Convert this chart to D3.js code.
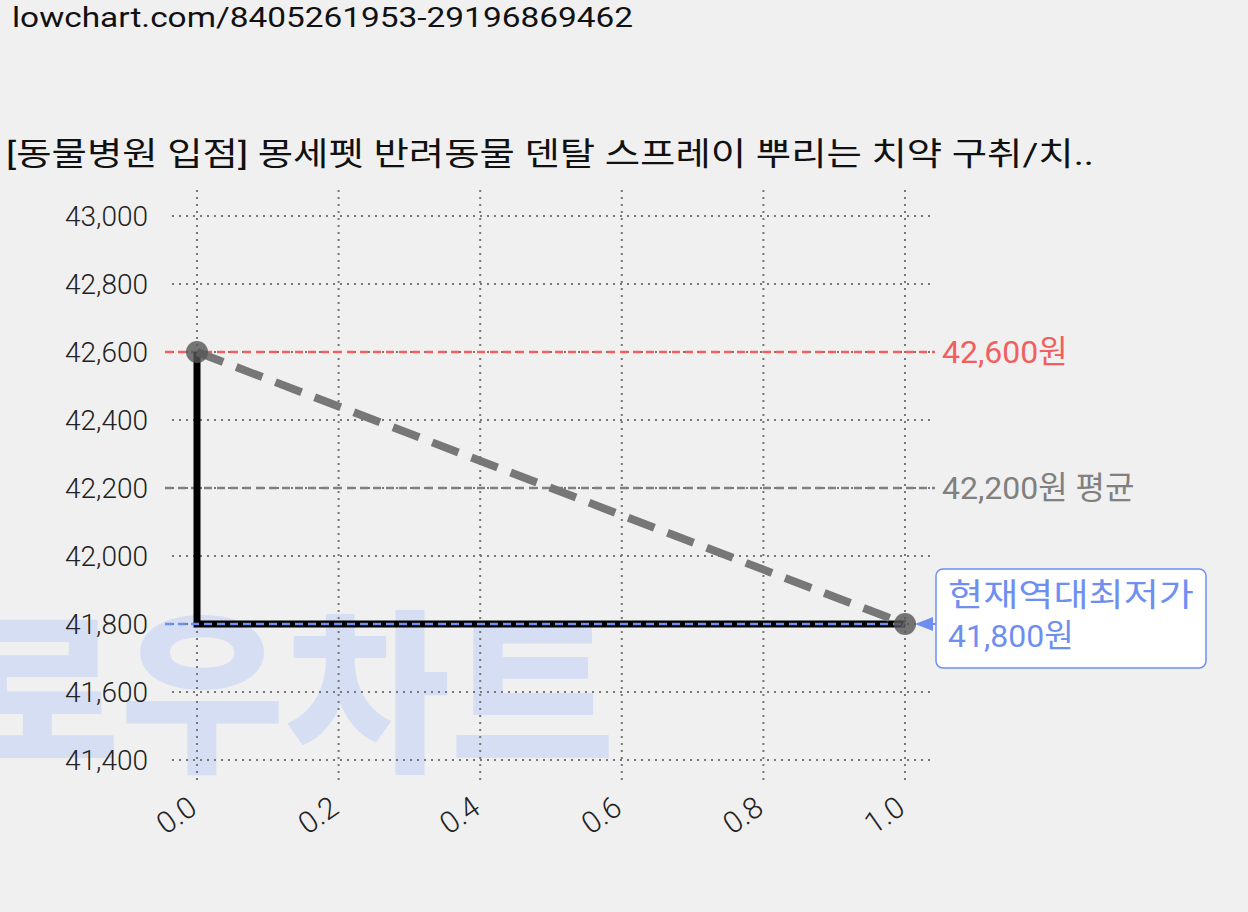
<!DOCTYPE html>
<html><head><meta charset="utf-8">
<script src="https://cdn.jsdelivr.net/npm/d3@7"></script>
<style>body{margin:0;background:#f0f0f0;font-family:Roboto,"Noto Sans CJK KR",sans-serif}</style>
</head><body>
<svg id="svg" width="1248" height="912"></svg>
<script>
const xs = [0, 1];
const prices = [42600, 41800];
const yTicks = [41400, 41600, 41800, 42000, 42200, 42400, 42600, 42800, 43000];
const xTicks = [0, 0.2, 0.4, 0.6, 0.8, 1.0];
const maxPrice = 42600, avgPrice = 42200, minPrice = 41800;

const svg = d3.select("#svg");
const x = d3.scaleLinear().domain([0, 1]).range([197, 905]);
const y = d3.scaleLinear().domain([41400, 43000]).range([760, 216]);

svg.append("text").attr("x", 12).attr("y", 27).attr("font-size", 28).attr("fill", "#111")
  .attr("textLength", 621).attr("lengthAdjust", "spacingAndGlyphs")
  .text("lowchart.com/8405261953-29196869462");
svg.append("text").attr("x", 6).attr("y", 165).attr("font-size", 32).attr("fill", "#111")
  .attr("textLength", 1088).attr("lengthAdjust", "spacingAndGlyphs")
  .text("[동물병원 입점] 몽세펫 반려동물 덴탈 스프레이 뿌리는 치약 구취/치..");

// watermark
svg.append("text").attr("x", -45).attr("y", 758).attr("font-size", 175).attr("font-weight", 900)
  .attr("fill", "#d5def2").attr("textLength", 660).attr("lengthAdjust", "spacingAndGlyphs").text("로우차트");

const g = svg.append("g");
yTicks.forEach(t => g.append("line").attr("x1", 172).attr("x2", 933).attr("y1", y(t)).attr("y2", y(t))
  .attr("stroke", "#777").attr("stroke-width", 2).attr("stroke-dasharray", "2,5"));
xTicks.forEach(t => g.append("line").attr("x1", x(t)).attr("x2", x(t)).attr("y1", 190).attr("y2", 785)
  .attr("stroke", "#777").attr("stroke-width", 2).attr("stroke-dasharray", "2,5"));

yTicks.forEach(t => svg.append("text").attr("x", 148).attr("y", y(t) + 10).attr("text-anchor", "end")
  .attr("font-size", 28).attr("font-weight", 300).attr("fill", "#222").text(d3.format(",")(t)));
xTicks.forEach(t => svg.append("text").attr("transform", `translate(${x(t) + 2},${812}) rotate(-35)`)
  .attr("text-anchor", "end").attr("font-size", 30).attr("font-weight", 300).attr("fill", "#222").text(t.toFixed(1)));

function hline(v, col, w) {
  svg.append("line").attr("x1", 165).attr("x2", w).attr("y1", y(v)).attr("y2", y(v))
    .attr("stroke", col).attr("stroke-width", 2.5).attr("stroke-dasharray", "8,5");
}
hline(maxPrice, "#f06060", 935);
hline(avgPrice, "#808080", 935);

const step = d3.line().x(d => x(d[0])).y(d => y(d[1])).curve(d3.curveStepBefore);
svg.append("path").attr("d", step(xs.map((d, i) => [d, prices[i]])))
  .attr("fill", "none").attr("stroke", "#000").attr("stroke-width", 7);
hline(minPrice, "#6f8ff0", 905);

svg.append("path").attr("d", d3.line().x(d => x(d[0])).y(d => y(d[1]))(xs.map((d, i) => [d, prices[i]])))
  .attr("fill", "none").attr("stroke", "#777").attr("stroke-width", 8).attr("stroke-dasharray", "28,14");
xs.forEach((d, i) => svg.append("circle").attr("cx", x(d)).attr("cy", y(prices[i])).attr("r", 11)
  .attr("fill", "#555").attr("opacity", 0.8));

svg.append("text").attr("x", 942).attr("y", y(maxPrice) + 11).attr("font-size", 32).attr("fill", "#f06060")
  .text(d3.format(",")(maxPrice) + "원");
svg.append("text").attr("x", 942).attr("y", y(avgPrice) + 11).attr("font-size", 32).attr("fill", "#808080")
  .text(d3.format(",")(avgPrice) + "원 평균");

svg.append("rect").attr("x", 936).attr("y", 569).attr("width", 270).attr("height", 99).attr("rx", 7)
  .attr("fill", "#fff").attr("stroke", "#6f8ff0").attr("stroke-width", 1.5);
svg.append("path").attr("d", `M${x(1) + 10},${y(minPrice)} L${x(1) + 28},${y(minPrice) - 7} L${x(1) + 28},${y(minPrice) + 7}Z`)
  .attr("fill", "#6f8ff0");
svg.append("line").attr("x1", x(1) + 25).attr("x2", 936).attr("y1", y(minPrice)).attr("y2", y(minPrice))
  .attr("stroke", "#6f8ff0").attr("stroke-width", 2);
svg.append("text").attr("x", 948).attr("y", 606).attr("font-size", 32).attr("fill", "#6f8ff0")
  .attr("textLength", 246).attr("lengthAdjust", "spacingAndGlyphs").text("현재역대최저가");
svg.append("text").attr("x", 948).attr("y", 647).attr("font-size", 32).attr("fill", "#6f8ff0")
  .text(d3.format(",")(minPrice) + "원");
</script>
</body></html>
